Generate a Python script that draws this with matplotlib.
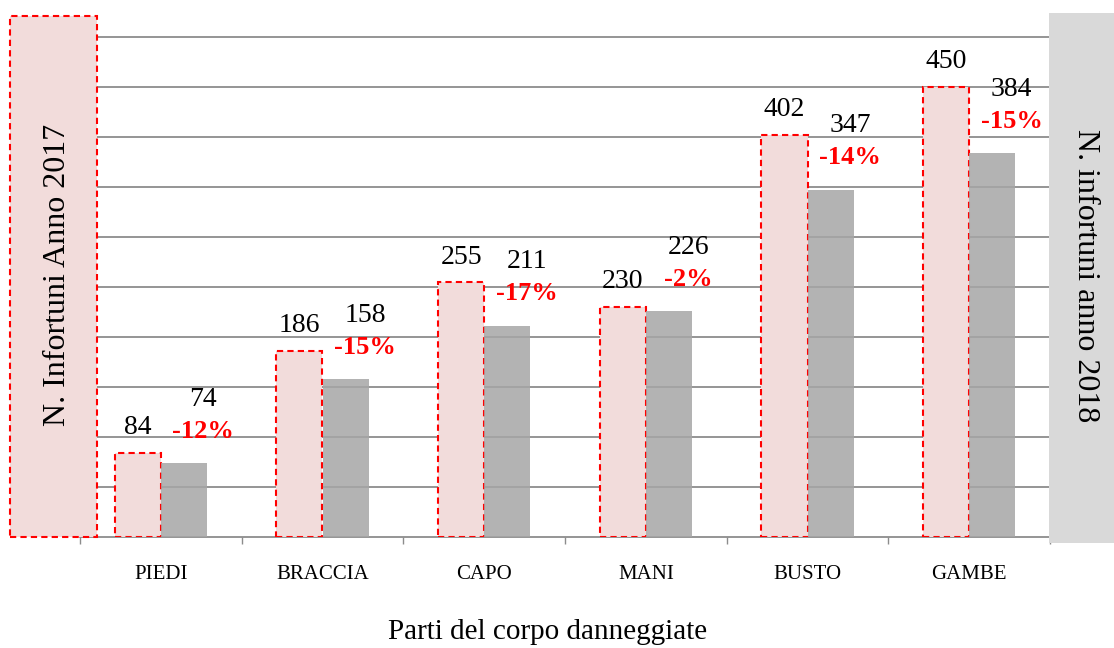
import matplotlib
matplotlib.use("Agg")
import matplotlib.pyplot as plt
import matplotlib.patches as mpatches
import numpy as np

# dati
categorie = ["PIEDI", "BRACCIA", "CAPO", "MANI", "BUSTO", "GAMBE"]
anno_2017 = [84, 186, 255, 230, 402, 450]
anno_2018 = [74, 158, 211, 226, 347, 384]
variazioni = ["-12%", "-15%", "-17%", "-2%", "-14%", "-15%"]

plt.rcParams['font.family'] = ['Liberation Serif', 'DejaVu Serif']

W, H = 1114, 648
fig = plt.figure(figsize=(W / 100, H / 100), dpi=100)
ax = fig.add_axes([80 / W, 1 - 537 / H, 970 / W, 537 / H])

x = np.arange(len(categorie))
w = 0.285
rosa = "#f2dcdb"
grigio = "#a6a6a6"

ax.bar(x - w / 2, anno_2017, width=w, color=rosa, edgecolor="#ff0000",
       linewidth=1.5, linestyle=(0, (3, 2)), zorder=3)
ax.bar(x + w / 2, anno_2018, width=w, color=grigio, alpha=0.85, zorder=3)

ax.set_xlim(-0.5, len(categorie) - 0.5)
ax.set_ylim(0, 537)
ax.set_yticks(np.arange(50, 501, 50))
ax.yaxis.grid(True, color="#8c8c8c", linewidth=1.3, zorder=2)
ax.set_axisbelow(False)
ax.tick_params(axis="y", length=0, labelleft=False)

ax.set_xticks(x)
ax.set_xticklabels(categorie, fontsize=15)
ax.set_xticks(np.arange(-0.5, len(categorie)), minor=True)
ax.tick_params(axis="x", which="major", length=0, pad=20)
ax.tick_params(axis="x", which="minor", length=5, width=1, color="#8c8c8c")

for s in ["top", "right", "left"]:
    ax.spines[s].set_visible(False)
ax.spines["bottom"].set_color("#8c8c8c")
ax.spines["bottom"].set_linewidth(1.3)

for i in range(len(categorie)):
    ax.text(x[i] - w / 2, anno_2017[i] + 25, str(anno_2017[i]),
            ha="center", va="center", fontsize=20, zorder=5)
    ax.text(x[i] + w / 2 + 0.12, anno_2018[i] + 64, str(anno_2018[i]),
            ha="center", va="center", fontsize=20, zorder=5)
    ax.text(x[i] + w / 2 + 0.12, anno_2018[i] + 32, variazioni[i],
            ha="center", va="center", fontsize=19, fontweight="bold",
            color="#ff0000", zorder=5)

fig.text(0.5 * (385 + 710) / W, 1 - 632 / H, "Parti del corpo danneggiate",
         ha="center", va="center", fontsize=21)

# riquadri laterali
box_sx = mpatches.Rectangle((10 / W, 1 - 537 / H), 87 / W, 521 / H,
                            transform=fig.transFigure, facecolor=rosa,
                            edgecolor="#ff0000", linewidth=1.5,
                            linestyle=(0, (3, 2)), zorder=4)
fig.patches.append(box_sx)
box_dx = mpatches.Rectangle((1049 / W, 1 - 543 / H), 65 / W, 530 / H,
                            transform=fig.transFigure, facecolor="#d9d9d9",
                            edgecolor="none", zorder=4)
fig.patches.append(box_dx)

fig.text(58 / W, 1 - 275 / H, "N. Infortuni Anno 2017", rotation=90,
         ha="center", va="center", fontsize=23, zorder=6)
fig.text(1085 / W, 1 - 276 / H, "N. infortuni anno 2018", rotation=270,
         ha="center", va="center", fontsize=23, zorder=6)

fig.savefig("out.png", dpi=100)
